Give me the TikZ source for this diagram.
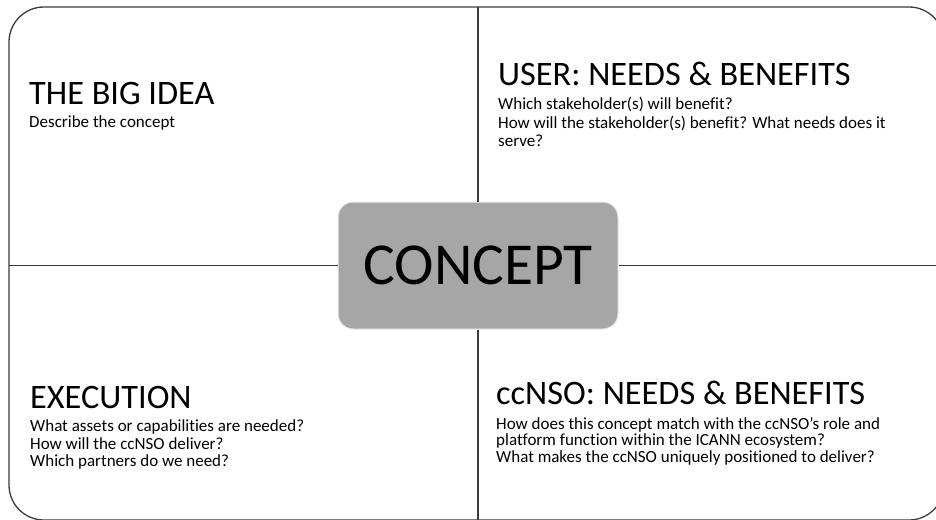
\documentclass[tikz,border=0pt]{standalone}
\usepackage{fontspec}
\setmainfont{Carlito}[Ligatures=NoCommon]
\definecolor{boxgray}{HTML}{A6A6A6}
\definecolor{linegray}{HTML}{3A3A3A}
\begin{document}
\begin{tikzpicture}[x=1pt,y=-1pt,
  frame/.style={draw=linegray,line width=1.3pt},
  divider/.style={draw=linegray,line width=1.4pt},
  heading/.style={anchor=base west,inner sep=0pt,font=\fontsize{34.3}{40}\selectfont,text=black},
  body/.style={anchor=base west,inner sep=0pt,font=\fontsize{17}{19}\selectfont,text=black},
  conceptbox/.style={draw=white!85!gray,line width=1pt,fill=boxgray,rounded corners=15pt,
    minimum width=280pt,minimum height=127pt,inner sep=0pt,
    font=\fontsize{59.5}{70}\selectfont,text=black}]
\useasboundingbox (0,0) rectangle (936,519);
\begin{scope}
\clip (0,0) rectangle (936,519);
\draw[frame,rounded corners=35pt] (9,7) rectangle (944,520);
\coordinate (ftop) at (478,7);
\coordinate (fbot) at (478,520);
\coordinate (fleft) at (9,265.5);
\coordinate (fright) at (944,265.5);
\node[conceptbox] (concept) at (478,265.5) {\raisebox{-1pt}{CONCEPT}};
\draw[divider] (concept.north) -- (ftop);
\draw[divider] (concept.south) -- (fbot);
\draw[divider] (concept.west) -- (fleft);
\draw[divider] (concept.east) -- (fright);
\end{scope}
% top left
\node[heading] (big) at (29,104.3) {THE BIG IDEA};
\node[body] (bigd) at (29,127.3) {Describe the concept};
% top right
\node[heading] (user) at (498,85) {USER: NEEDS \& BENEFITS};
\node[body] (user1) at (498,109.3) {Which stakeholder(s) will benefit?};
\node[body] (user2) at (498,128) {How will the stakeholder(s) benefit? What needs does it};
\node[body] (user3) at (498,146.5) {serve?};
% bottom left
\node[heading] (exec) at (30,408.3) {EXECUTION};
\node[body] (exec1) at (30,431.7) {What assets or capabilities are needed?};
\node[body] (exec2) at (30,449.2) {How will the ccNSO deliver?};
\node[body] (exec3) at (30,466.7) {Which partners do we need?};
% bottom right
\node[heading] (ccnso) at (496,404.3) {ccNSO: NEEDS \& BENEFITS};
\node[body] (cc1) at (496,429) {How does this concept match with the ccNSO’s role and};
\node[body] (cc2) at (496,445.7) {platform function within the ICANN ecosystem?};
\node[body] (cc3) at (496,462.4) {What makes the ccNSO uniquely positioned to deliver?};
\end{tikzpicture}
\end{document}
